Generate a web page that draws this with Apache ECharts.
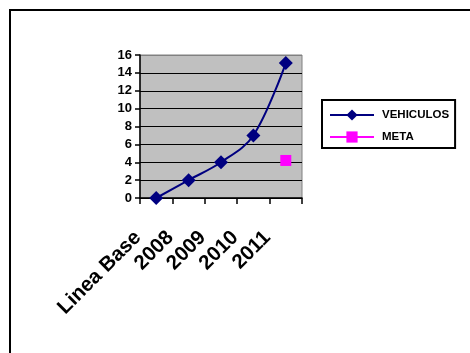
<!DOCTYPE html>
<html><head><meta charset="utf-8">
<script src="https://cdn.jsdelivr.net/npm/echarts@6/dist/echarts.min.js"></script>
<style>html,body{margin:0;padding:0;background:#fff}#c{width:470px;height:353px}</style>
</head><body><div id="c"></div>
<script>
var categories = ['Linea Base', '2008', '2009', '2010', '2011'];
var vehiculos = [0, 2, 4, 7, 15.1];
var meta = [null, null, null, null, 4.2];
var yTicks = [0, 2, 4, 6, 8, 10, 12, 14, 16];

var chart = echarts.init(document.getElementById('c'), null, {renderer: 'canvas'});
var F = '"Liberation Sans", Arial, sans-serif';
var splitColors = yTicks.map(function (v, i) { return i === yTicks.length - 1 ? '#808080' : '#000000'; });
chart.setOption({
  backgroundColor: '#ffffff',
  animation: false,
  graphic: [{
    type: 'rect', z: -10, silent: true,
    shape: {x: 10, y: 10, width: 480, height: 380},
    style: {fill: 'none', stroke: '#000', lineWidth: 2}
  }],
  grid: {
    left: 140, top: 55, right: 168, bottom: 155,
    show: true, backgroundColor: '#C0C0C0', borderColor: '#808080', borderWidth: 1
  },
  legend: {
    left: 322, top: 100, orient: 'vertical',
    borderColor: '#000', borderWidth: 2,
    padding: [9, 6, 5, 7],
    itemWidth: 44, itemHeight: 14, itemGap: 10,
    textStyle: {fontFamily: F, fontWeight: 'bold', fontSize: 11.5, color: '#000', padding: [0, 0, 0, 3]},
    data: ['VEHICULOS', 'META']
  },
  xAxis: {
    type: 'category', data: categories, boundaryGap: true,
    axisLine: {show: true, lineStyle: {color: '#000', width: 1.5}},
    axisTick: {show: true, length: 6, lineStyle: {color: '#000', width: 1.5}},
    axisLabel: {
      interval: 0, rotate: 45, margin: 18, padding: [0, 26, 0, 0],
      fontFamily: F, fontWeight: 'bold', fontSize: 20.5, color: '#000'
    },
    splitLine: {show: false}
  },
  yAxis: {
    type: 'value', min: 0, max: 16, interval: 2,
    axisLine: {show: true, lineStyle: {color: '#000', width: 1.5}},
    axisTick: {show: true, length: 5, lineStyle: {color: '#000', width: 1.5}},
    axisLabel: {margin: 8, fontFamily: F, fontWeight: 'bold', fontSize: 13, color: '#000'},
    splitLine: {show: true, lineStyle: {color: splitColors, width: 1.2}}
  },
  series: [{
    name: 'VEHICULOS', type: 'line', data: vehiculos, smooth: 0.35,
    symbol: 'diamond', symbolSize: 14,
    lineStyle: {color: '#000080', width: 2},
    itemStyle: {color: '#000080'}
  }, {
    name: 'META', type: 'line', data: meta,
    symbol: 'rect', symbolSize: 11,
    lineStyle: {color: '#FF00FF', width: 2},
    itemStyle: {color: '#FF00FF'}
  }]
});
</script></body></html>
